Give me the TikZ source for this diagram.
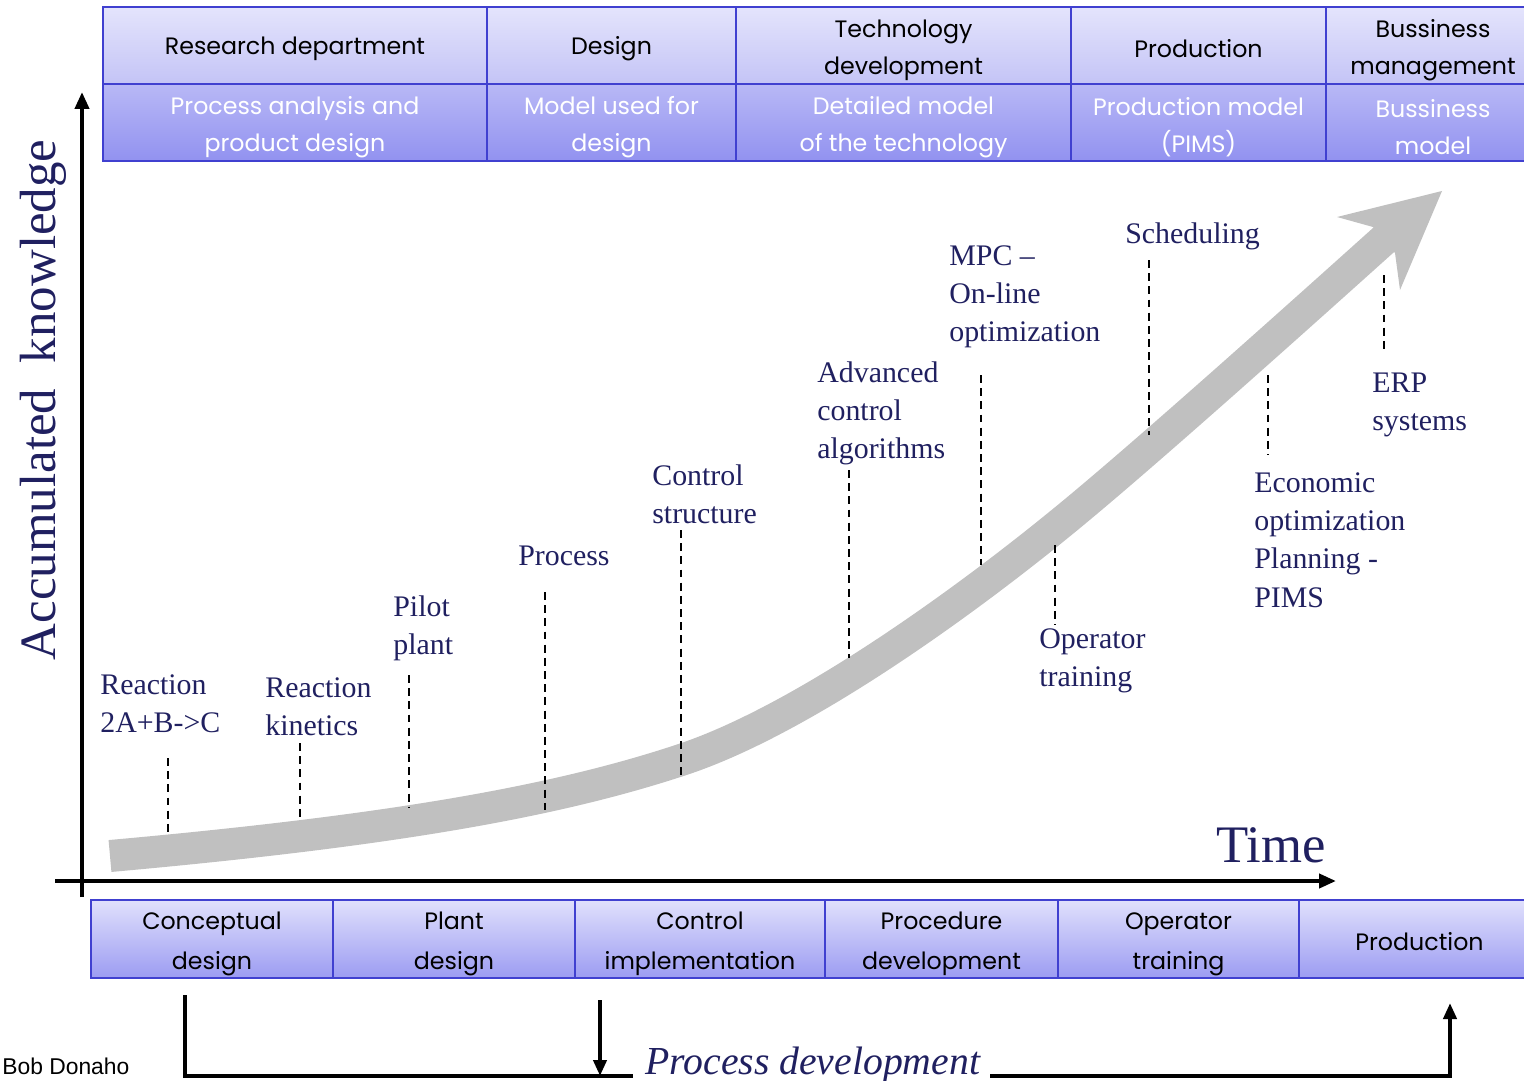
\documentclass[tikz,border=0pt]{standalone}
\usepackage{fontspec}
\setmainfont{Liberation Serif}
\newfontfamily\hdrfont{Poppins}
\newfontfamily\arialfont{Liberation Sans}
\usetikzlibrary{arrows.meta}
\definecolor{navy}{RGB}{32,32,96}
\definecolor{bandgray}{RGB}{192,192,192}
\definecolor{cellborder}{RGB}{64,64,208}
\definecolor{hAtop}{RGB}{228,228,252}
\definecolor{hAbot}{RGB}{196,196,246}
\definecolor{hBtop}{RGB}{184,184,246}
\definecolor{hBbot}{RGB}{146,146,240}
\definecolor{fTop}{RGB}{224,224,252}
\definecolor{fBot}{RGB}{156,156,242}
\tikzset{
  cellbox/.style={draw=cellborder, line width=1.2pt, inner sep=0pt, outer sep=0pt},
  hrowA/.style={cellbox, minimum height=1.54cm, top color=hAtop, bottom color=hAbot},
  hrowB/.style={cellbox, minimum height=1.54cm, top color=hBtop, bottom color=hBbot},
  frow/.style={cellbox, minimum height=1.56cm, top color=fTop, bottom color=fBot},
  hdrtext/.style={align=center, inner sep=0pt, text=black, font=\hdrfont\fontsize{13.5}{21}\selectfont},
  subtext/.style={hdrtext, text=white},
  foottext/.style={hdrtext, font=\hdrfont\fontsize{13.5}{22.8}\selectfont},
  lbl/.style={font=\fontsize{17}{21.8}\selectfont, text=navy, align=left, inner sep=0pt, anchor=base west},
  dashline/.style={draw=black, line width=1.1pt, dash pattern=on 4.5pt off 3pt},
  axisline/.style={draw=black, line width=2.3pt, -{Triangle[length=0.34cm,width=0.28cm]}},
  flowline/.style={draw=black, line width=2.8pt},
  flowarrow/.style={draw=black, line width=2.8pt, -{Triangle[length=0.32cm,width=0.26cm]}},
  band/.style={draw=bandgray, line width=0.64cm}
}
\begin{document}
\begin{tikzpicture}[x=0.02cm,y=-0.02cm]
\useasboundingbox (0,0) rectangle (1524,1081);
\clip (0,0) rectangle (1524,1081);

% header table cells
\node[hrowA, minimum width=7.68cm] (h1) at (295,45.5) {};
\node[hrowA, minimum width=4.98cm] (h2) at (611.5,45.5) {};
\node[hrowA, minimum width=6.70cm] (h3) at (903.5,45.5) {};
\node[hrowA, minimum width=5.10cm] (h4) at (1198.5,45.5) {};
\node[hrowA, minimum width=4.28cm] (h5) at (1433,45.5) {};
\node[hrowB, minimum width=7.68cm] (m1) at (295,122.5) {};
\node[hrowB, minimum width=4.98cm] (m2) at (611.5,122.5) {};
\node[hrowB, minimum width=6.70cm] (m3) at (903.5,122.5) {};
\node[hrowB, minimum width=5.10cm] (m4) at (1198.5,122.5) {};
\node[hrowB, minimum width=4.28cm] (m5) at (1433,122.5) {};
% header texts
\node[hdrtext] (h1t) at (295,48.5) {Research department};
\node[hdrtext] (h2t) at (611.5,48.5) {Design};
\node[hdrtext] (h3t) at (903.5,50.5) {Technology\\development};
\node[hdrtext] (h4t) at (1198.5,48.5) {Production};
\node[hdrtext] (h5t) at (1433,50.5) {Bussiness\\management};
\node[subtext] (m1t) at (295,127.5) {Process analysis and\\product design};
\node[subtext] (m2t) at (611.5,127.5) {Model used for\\design};
\node[subtext] (m3t) at (903.5,127.5) {Detailed model\\of the technology};
\node[subtext] (m4t) at (1198.5,127.5) {Production model\\(PIMS)};
\node[subtext] (m5t) at (1433,127.5) {Bussiness\\model};

% footer table
\node[frow, minimum width=4.84cm] (f1) at (212,939) {};
\node[frow, minimum width=4.84cm] (f2) at (454,939) {};
\node[frow, minimum width=5.00cm] (f3) at (700,939) {};
\node[frow, minimum width=4.66cm] (f4) at (941.5,939) {};
\node[frow, minimum width=4.82cm] (f5) at (1178.5,939) {};
\node[frow, minimum width=4.82cm] (f6) at (1419.5,939) {};
\node[foottext] (f1t) at (212,944) {Conceptual\\design};
\node[foottext] (f2t) at (454,944) {Plant\\design};
\node[foottext] (f3t) at (700,944) {Control\\implementation};
\node[foottext] (f4t) at (941.5,944) {Procedure\\development};
\node[foottext] (f5t) at (1178.5,944) {Operator\\training};
\node[foottext] (f6t) at (1419.5,942) {Production};

% knowledge band
\draw[band] (110,856) .. controls (400,830) and (560,800) .. (681,760)
  .. controls (800,721) and (960,605) .. (1056,527)
  .. controls (1133,465) and (1300,315) .. (1388,236);
\fill[bandgray] (1442,191) -- (1337,217) -- (1373,227) -- (1395,253) -- (1400,290) -- cycle;

% axes
\coordinate (yb) at (82,897);
\coordinate (yt) at (82,92);
\coordinate (xl) at (55,881);
\coordinate (xr) at (1336,881);
\draw[axisline] (yb) -- (yt);
\draw[axisline] (xl) -- (xr);
\node[font=\fontsize{29}{34}\selectfont, text=navy, rotate=90, inner sep=0pt] (ylab) at (43,400) {Accumulated\ \ knowledge};
\node[font=\fontsize{30}{34}\selectfont, text=navy, inner sep=0pt, anchor=base west] (xlab) at (1216,862) {Time};

% labels (anchor at baseline of last line)
\node[lbl] (l1) at (100,732.4) {Reaction\\2A+B->C};
\node[lbl] (l2) at (265,735.4) {Reaction\\kinetics};
\node[lbl] (l3) at (393,654.4) {Pilot\\plant};
\node[lbl] (l4) at (518,565) {Process};
\node[lbl] (l5) at (652,523.4) {Control\\structure};
\node[lbl] (l6) at (817,458.8) {Advanced\\control\\algorithms};
\node[lbl] (l7) at (949,341.8) {MPC --\\On-line\\optimization};
\node[lbl] (l8) at (1125,243) {Scheduling};
\node[lbl] (l9) at (1372,430.4) {ERP\\systems};
\node[lbl] (l10) at (1254,607.2) {Economic\\optimization\\Planning -\\PIMS};
\node[lbl] (l11) at (1039,686.4) {Operator\\training};

% dashed leaders
\foreach \n/\x/\a/\b in {1/168/758/836, 2/300/743/822, 3/409/675/808, 4/545/592/810,
    5/681/530/775, 6/849/470/658, 7/981/375/565, 8/1055/545/625, 9/1149/260/435,
    10/1268/375/455, 11/1384/275/352}{
  \coordinate (d\n a) at (\x,\a);
  \coordinate (d\n b) at (\x,\b);
  \draw[dashline] (d\n a) -- (d\n b);
}

% bottom process flow
\node[font=\itshape\fontsize{22.6}{26}\selectfont, text=navy, inner sep=0pt, anchor=base west] (pd) at (645,1074) {Process development};
\coordinate (s1) at (185,995);
\coordinate (s2) at (633,1076);
\coordinate (s3) at (600,1000);
\coordinate (s4) at (600,1076);
\coordinate (s5) at (990,1076);
\coordinate (s6) at (1450,1003);
\draw[flowline] (s1) |- (s2);
\draw[flowarrow] (s3) -- (s4);
\draw[flowarrow] (s5) -| (s6);

\node[font=\arialfont\fontsize{13}{16}\selectfont, text=black, inner sep=0pt, anchor=base west] (bob) at (2,1074) {Bob Donaho};
\end{tikzpicture}
\end{document}
